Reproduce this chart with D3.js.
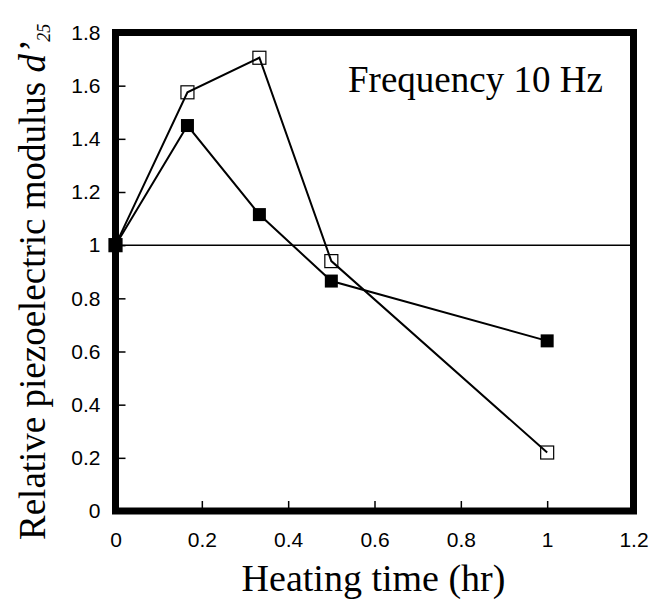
<!DOCTYPE html>
<html>
<head>
<meta charset="utf-8">
<script src="https://cdn.jsdelivr.net/npm/d3@7"></script>
<style>
  html, body { margin: 0; padding: 0; background: #fff; }
</style>
</head>
<body>
<div id="chart"></div>
<script>
// heating time in hours
const times = [0, 1 / 6, 1 / 3, 0.5, 1];
// open squares
const openValues = [1.0, 1.575, 1.705, 0.94, 0.22];
// filled squares
const filledValues = [1.0, 1.45, 1.115, 0.865, 0.64];

const xTicks = [0, 0.2, 0.4, 0.6, 0.8, 1, 1.2];
const yTicks = [0, 0.2, 0.4, 0.6, 0.8, 1, 1.2, 1.4, 1.6, 1.8];
const refLine = 1;

const width = 652;
const height = 600;
const margin = { top: 32.5, right: 18.5, bottom: 89, left: 115.5 };

const x = d3.scaleLinear().domain([0, 1.2]).range([margin.left, width - margin.right]);
const y = d3.scaleLinear().domain([0, 1.8]).range([height - margin.bottom, margin.top]);

const svg = d3.select('#chart')
  .append('svg')
  .attr('width', width)
  .attr('height', height);

const fmt = d => String(+d.toFixed(1));
const tickFont = "'Liberation Sans', Arial, sans-serif";
const serif = "'Liberation Serif', 'Times New Roman', serif";

// axes, ticks pointing inward
const xAxis = svg.append('g')
  .attr('transform', `translate(0,${y(0)})`)
  .call(d3.axisBottom(x).tickValues(xTicks).tickFormat(fmt).tickSize(-10).tickPadding(21));
const yAxis = svg.append('g')
  .attr('transform', `translate(${x(0)},0)`)
  .call(d3.axisLeft(y).tickValues(yTicks).tickFormat(fmt).tickSize(-10).tickPadding(15));

[xAxis, yAxis].forEach(g => {
  g.select('.domain').remove();
  g.selectAll('line').attr('stroke', '#000').attr('stroke-width', 1.5);
  g.selectAll('text')
    .attr('font-family', tickFont)
    .attr('font-size', '21px')
    .attr('fill', '#000');
});

// reference line at 1
svg.append('line')
  .attr('x1', x(0)).attr('x2', x(1.2))
  .attr('y1', y(refLine)).attr('y2', y(refLine))
  .attr('stroke', '#000')
  .attr('stroke-width', 1.5);

// heavy frame
svg.append('rect')
  .attr('x', x(0)).attr('y', y(1.8))
  .attr('width', x(1.2) - x(0))
  .attr('height', y(0) - y(1.8))
  .attr('fill', 'none')
  .attr('stroke', '#000')
  .attr('stroke-width', 7);

const line = d3.line()
  .x(d => x(d[0]))
  .y(d => y(d[1]));

const openPts = times.map((t, i) => [t, openValues[i]]);
const filledPts = times.map((t, i) => [t, filledValues[i]]);

svg.append('path')
  .datum(openPts)
  .attr('d', line)
  .attr('fill', 'none')
  .attr('stroke', '#000')
  .attr('stroke-width', 2);

svg.append('path')
  .datum(filledPts)
  .attr('d', line)
  .attr('fill', 'none')
  .attr('stroke', '#000')
  .attr('stroke-width', 2);

const s = 13;
svg.selectAll('rect.open')
  .data(openPts)
  .enter()
  .append('rect')
  .classed('open', true)
  .attr('x', d => x(d[0]) - s / 2)
  .attr('y', d => y(d[1]) - s / 2)
  .attr('width', s)
  .attr('height', s)
  .attr('fill', 'none')
  .attr('stroke', '#000')
  .attr('stroke-width', 1.2);

svg.selectAll('rect.filled')
  .data(filledPts)
  .enter()
  .append('rect')
  .classed('filled', true)
  .attr('x', d => x(d[0]) - s / 2)
  .attr('y', d => y(d[1]) - s / 2)
  .attr('width', s)
  .attr('height', s)
  .attr('fill', '#000');

// annotation
svg.append('text')
  .attr('x', 348)
  .attr('y', 92)
  .attr('font-family', serif)
  .attr('font-size', '37px')
  .text('Frequency 10 Hz');

// axis titles
svg.append('text')
  .attr('x', (x(0) + x(1.2)) / 2 - 1)
  .attr('y', 591)
  .attr('text-anchor', 'middle')
  .attr('font-family', serif)
  .attr('font-size', '38px')
  .text('Heating time (hr)');

const yTitle = svg.append('text')
  .attr('transform', 'translate(45,540) rotate(-90)')
  .attr('font-family', serif)
  .attr('font-size', '37px');
yTitle.append('tspan').text('Relative piezoelectric modulus ');
yTitle.append('tspan').attr('font-style', 'italic').text('d\u2019');
yTitle.append('tspan')
  .attr('font-size', '18px')
  .attr('font-style', 'italic')
  .attr('dy', '0.25em')
  .text('25');
</script>
</body>
</html>
